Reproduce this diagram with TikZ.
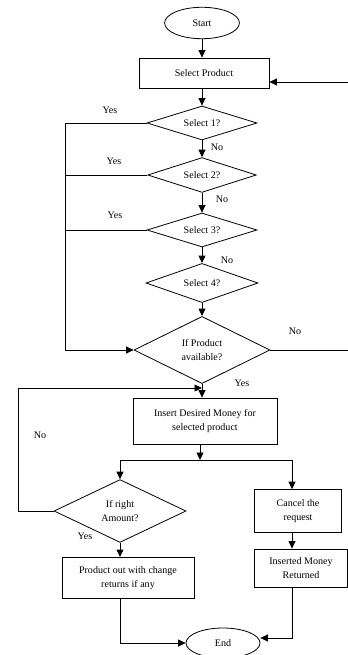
\documentclass[tikz,border=0pt]{standalone}
\usepackage{fontspec}
\setmainfont{Liberation Serif}
\usetikzlibrary{shapes.geometric,arrows.meta}

\begin{document}
\begin{tikzpicture}[x=0.035cm, y=-0.035cm, line width=0.8pt,
        font=\fontsize{10}{13.5}\selectfont,
        term/.style={draw, ellipse, inner sep=0pt, minimum width=2.62cm, minimum height=1.1cm},
        proc/.style={draw, rectangle, align=center, inner sep=0pt},
        dec/.style={draw, diamond, align=center, inner sep=0pt, aspect=3},
        flow/.style={-{Triangle[length=2.6mm,width=2.4mm]}}]

            \useasboundingbox (0,0) rectangle (348,655);

            \node[term] (start) at (202,23) {Start};
            \node[proc, minimum width=4.55cm, minimum height=1.05cm] (sel) at (204,73) {Select Product};
            \node[dec, minimum width=3.85cm, minimum height=1.19cm] (s1) at (202,123) {Select 1?};
            \node[dec, minimum width=3.8cm, minimum height=1.22cm] (s2) at (202,175) {Select 2?};
            \node[dec, minimum width=3.85cm, minimum height=1.19cm] (s3) at (202,230) {Select 3?};
            \node[dec, minimum width=3.92cm, minimum height=1.37cm] (s4) at (202,283) {Select 4?};
            \node[dec, minimum width=4.76cm, minimum height=2.35cm] (avail) at (202,350) {If Product\\available?};
            \node[proc, minimum width=5.04cm, minimum height=1.61cm] (money) at (205,421) {Insert Desired Money for\\selected product};
            \node[dec, minimum width=4.62cm, minimum height=2.2cm] (amount) at (120,511) {If right\\Amount?};
            \node[proc, minimum width=4.62cm, minimum height=1.44cm] (out) at (128,578) {Product out with change\\returns if any};
            \node[proc, minimum width=3.05cm, minimum height=1.5cm] (cancel) at (298,511) {Cancel the\\request};
            \node[proc, minimum width=3.26cm, minimum height=1.33cm] (back) at (301,568) {Inserted Money\\Returned};
            \node[term, minimum width=2.59cm, minimum height=1.05cm] (end) at (223,643) {End};

            \coordinate (rin) at (348,82);
            \coordinate (rout) at (348,350);
            \coordinate (lft) at (65,350);
            \coordinate (lp) at (18,388);
            \coordinate (join) at (202,388);
            \coordinate (fork) at (200,460);
            \coordinate (rgt) at (292,460);
            \coordinate (eb) at (292,638);

            \draw[flow] (start) -- (start |- sel.north);
            \draw[flow] (sel.south -| s1) -- (s1);
            \draw[flow] (s1) -- (s2);
            \draw[flow] (s2) -- (s3);
            \draw[flow] (s3) -- (s4);
            \draw[flow] (s4) -- (avail);
            \draw[flow] (avail) -- (avail |- money.north);
            \draw[flow] (rin) -- (rin -| sel.east);
            \draw (avail) -- (rout);

            \draw[flow] (s1) -| (lft) -- (avail);
            \draw (s2) -- (s2 -| lft);
            \draw (s3) -- (s3 -| lft);

            \draw[flow] (amount) -| (lp) -- (join);
            \draw[flow] (money.south -| fork) -- (fork);
            \draw[flow] (fork) -| (amount);
            \draw[flow] (fork) -| (cancel.north -| rgt);
            \draw[flow] (amount) -- (amount |- out.north);
            \draw[flow] (cancel.south -| rgt) -- (rgt |- back.north);
            \draw[flow] (out.south -| amount) |- (end);
            \draw[flow] (back.south -| rgt) -- (eb) -- (eb -| end.east);

            \node (y1) at (110,110) {Yes};
            \node (y2) at (114,161) {Yes};
            \node (y3) at (115,215) {Yes};
            \node (n1) at (217,147) {No};
            \node (n2) at (222,199) {No};
            \node (n3) at (227,260) {No};
            \node (n4) at (295,331) {No};
            \node (y4) at (242,383) {Yes};
            \node (n5) at (40,435) {No};
            \node (y5) at (85,536) {Yes};
        \end{tikzpicture}
\end{document}
